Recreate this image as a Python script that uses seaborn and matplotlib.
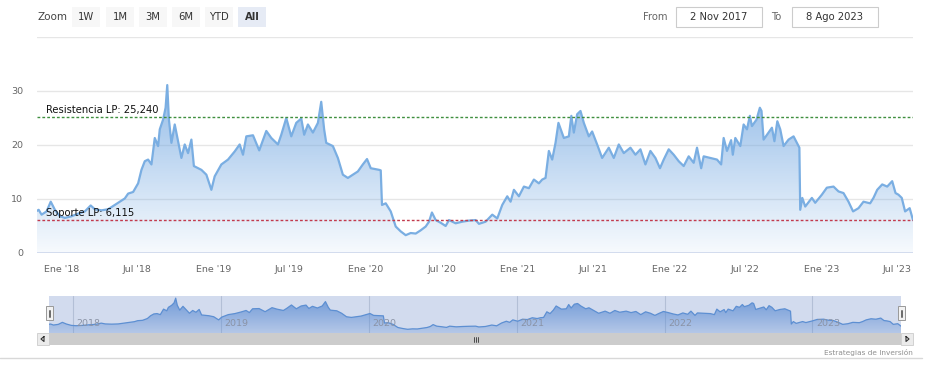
import matplotlib
matplotlib.use("Agg")
import matplotlib.dates as mdates
import matplotlib.pyplot as plt
import matplotlib.transforms as mtransforms
import numpy as np
import pandas as pd
import seaborn as sns
from matplotlib.patches import Rectangle

# Price series
dates = [
    "2017-11-02", "2017-11-06", "2017-11-13", "2017-11-25", "2017-12-05", "2017-12-15", "2017-12-27",
    "2018-01-08", "2018-01-24", "2018-02-09", "2018-02-25", "2018-03-11", "2018-03-21", "2018-04-06",
    "2018-04-22", "2018-05-08", "2018-05-20", "2018-06-01", "2018-06-09", "2018-06-21", "2018-07-03",
    "2018-07-11", "2018-07-19", "2018-07-27", "2018-08-04", "2018-08-12", "2018-08-20", "2018-08-24",
    "2018-09-01", "2018-09-07", "2018-09-11", "2018-09-15", "2018-09-21", "2018-09-29", "2018-10-07",
    "2018-10-15", "2018-10-23", "2018-10-31", "2018-11-08", "2018-11-14", "2018-11-24", "2018-12-02",
    "2018-12-14", "2018-12-26", "2019-01-03", "2019-01-19", "2019-02-04", "2019-02-20", "2019-03-04",
    "2019-03-12", "2019-03-20", "2019-04-05", "2019-04-20", "2019-05-07", "2019-05-19", "2019-06-04",
    "2019-06-12", "2019-06-24", "2019-07-06", "2019-07-18", "2019-07-30", "2019-08-06", "2019-08-15",
    "2019-08-27", "2019-09-08", "2019-09-16", "2019-09-23", "2019-09-28", "2019-10-14", "2019-10-26",
    "2019-11-07", "2019-11-19", "2019-12-01", "2019-12-13", "2019-12-25", "2020-01-04", "2020-01-13",
    "2020-02-02", "2020-02-06", "2020-02-09", "2020-02-18", "2020-03-01", "2020-03-13", "2020-03-25",
    "2020-04-06", "2020-04-18", "2020-04-30", "2020-05-12", "2020-05-24", "2020-06-01", "2020-06-08",
    "2020-06-17", "2020-06-29", "2020-07-11", "2020-07-19", "2020-08-04", "2020-08-20", "2020-09-05",
    "2020-09-21", "2020-09-29", "2020-10-15", "2020-10-31", "2020-11-12", "2020-11-24", "2020-12-06",
    "2020-12-14", "2020-12-22", "2021-01-03", "2021-01-15", "2021-01-27", "2021-02-08", "2021-02-20",
    "2021-02-28", "2021-03-08", "2021-03-16", "2021-03-24", "2021-04-01", "2021-04-08", "2021-04-21",
    "2021-05-03", "2021-05-09", "2021-05-15", "2021-05-23", "2021-05-31", "2021-06-08", "2021-06-20",
    "2021-06-28", "2021-07-10", "2021-07-22", "2021-08-07", "2021-08-19", "2021-08-31", "2021-09-12",
    "2021-09-28", "2021-10-10", "2021-10-22", "2021-11-03", "2021-11-15", "2021-11-27", "2021-12-08",
    "2021-12-17", "2021-12-29", "2022-01-10", "2022-01-22", "2022-02-03", "2022-02-15", "2022-02-27",
    "2022-03-07", "2022-03-17", "2022-03-23", "2022-04-08", "2022-04-24", "2022-05-04", "2022-05-10",
    "2022-05-18", "2022-05-28", "2022-06-01", "2022-06-07", "2022-06-19", "2022-06-27", "2022-07-05",
    "2022-07-12", "2022-07-17", "2022-07-28", "2022-08-05", "2022-08-09", "2022-08-14", "2022-08-26",
    "2022-09-03", "2022-09-09", "2022-09-16", "2022-09-23", "2022-10-01", "2022-10-13", "2022-10-25",
    "2022-11-02", "2022-11-08", "2022-11-10", "2022-11-15", "2022-11-22", "2022-12-08", "2022-12-16",
    "2023-01-01", "2023-01-13", "2023-01-29", "2023-02-10", "2023-02-22", "2023-03-06", "2023-03-17",
    "2023-03-30", "2023-04-11", "2023-04-27", "2023-05-05", "2023-05-14", "2023-05-26", "2023-06-07",
    "2023-06-19", "2023-06-27", "2023-07-04", "2023-07-12", "2023-07-20", "2023-07-31", "2023-08-08",
]
prices = [
    7.8, 8.0, 7.1, 7.7, 9.5, 8.0, 6.8,
    6.5, 6.8, 7.3, 7.7, 8.8, 8.1, 7.9,
    8.1, 8.9, 9.5, 10.1, 11.0, 11.3, 12.9,
    15.4, 17.0, 17.3, 16.4, 21.3, 19.8, 22.9,
    24.7, 26.9, 31.1, 24.7, 20.4, 23.8, 20.7,
    17.6, 20.1, 18.5, 21.0, 16.1, 15.7, 15.4,
    14.5, 11.7, 14.2, 16.4, 17.3, 18.8, 20.1,
    18.2, 21.6, 21.8, 19.0, 22.6, 21.3, 20.1,
    21.9, 25.0, 21.6, 24.1, 24.9, 21.9, 23.8,
    22.3, 24.1, 28.0, 22.9, 20.4, 19.8, 17.6,
    14.5, 13.9, 14.5, 15.1, 16.4, 17.4, 15.7,
    15.4, 15.3, 8.9, 9.2, 7.7, 4.9, 4.0,
    3.3, 3.7, 3.6, 4.2, 4.9, 5.8, 7.5,
    6.1, 5.6, 5.0, 6.1, 5.5, 5.8, 6.0,
    6.1, 5.4, 5.8, 7.1, 6.4, 8.9, 10.5,
    9.5, 11.7, 10.5, 12.3, 12.0, 13.6, 12.9,
    13.6, 13.9, 18.9, 17.3, 20.4, 24.1, 21.3,
    21.6, 25.4, 22.3, 25.7, 26.3, 24.1, 21.6,
    22.5, 20.1, 17.6, 19.5, 17.6, 20.1, 18.5,
    19.5, 18.2, 19.2, 16.4, 18.9, 17.6, 15.7,
    17.3, 19.2, 18.2, 17.0, 16.1, 17.9, 16.7,
    19.5, 15.7, 17.9, 17.6, 17.3, 16.4, 21.3,
    18.9, 20.9, 18.2, 21.3, 19.8, 23.8, 22.9,
    25.4, 23.5, 24.7, 26.9, 26.3, 21.0, 22.3,
    23.2, 20.7, 24.4, 22.9, 19.8, 21.0, 21.6,
    20.4, 19.5, 8.0, 10.2, 8.6, 10.2, 9.3,
    10.8, 12.1, 12.3, 11.4, 11.1, 9.5, 7.7,
    8.3, 9.5, 9.2, 10.2, 11.7, 12.7, 12.3,
    13.3, 11.1, 10.8, 10.2, 7.7, 8.3, 6.1,
]

resistance = 25.240
support = 6.115

y_ticks = [0, 10, 20, 30, 40]
y_tick_labels = ["0", "10", "20", "30", ""]
x_tick_dates = ["2018-01-01", "2018-07-01", "2019-01-01", "2019-07-01", "2020-01-01", "2020-07-01",
                "2021-01-01", "2021-07-01", "2022-01-01", "2022-07-01", "2023-01-01", "2023-07-01"]
x_tick_labels = ["Ene '18", "Jul '18", "Ene '19", "Jul '19", "Ene '20", "Jul '20",
                 "Ene '21", "Jul '21", "Ene '22", "Jul '22", "Ene '23", "Jul '23"]
nav_years = ["2018", "2019", "2020", "2021", "2022", "2023"]
zoom_buttons = ["1W", "1M", "3M", "6M", "YTD", "All"]
date_from = "2 Nov 2017"
date_to = "8 Ago 2023"

df = pd.DataFrame({"fecha": pd.to_datetime(dates), "precio": prices})
start, end = df["fecha"].min(), df["fecha"].max()

sns.set_theme(style="white")
plt.rcParams["font.family"] = ["DejaVu Sans"]

W, H = 925, 376
fig = plt.figure(figsize=(W / 100, H / 100), dpi=100)
fig.patch.set_facecolor("white")


def px_box(x0, y0, x1, y1):
    return [x0 / W, 1 - y1 / H, (x1 - x0) / W, (y1 - y0) / H]


def gradient_area(ax, x, y, rgb, a_top, a_bottom, ymax):
    poly = ax.fill_between(x, y, 0, color="none", lw=0)
    img = np.zeros((256, 1, 4))
    img[:, :, :3] = rgb
    img[:, 0, 3] = np.linspace(a_top, a_bottom, 256)
    x0, x1 = mdates.date2num(x.min()), mdates.date2num(x.max())
    im = ax.imshow(img, aspect="auto", extent=[x0, x1, 0, ymax], origin="upper", zorder=1)
    im.set_clip_path(poly.get_paths()[0], transform=ax.transData)


# main chart
ax = fig.add_axes(px_box(37, 37, 913, 253))
gradient_area(ax, df["fecha"], df["precio"], (0.47, 0.67, 0.89), 0.8, 0.06, 31.5)
sns.lineplot(data=df, x="fecha", y="precio", ax=ax, color="#7aaee2", lw=1.6, zorder=3)
ax.set_xlim(start, end)
ax.set_ylim(0, 40)
for v in y_ticks[1:]:
    ax.axhline(v, color="#e6e6e6", lw=1, zorder=0)
ax.axhline(0, color="#ccd6eb", lw=1.2, zorder=4)
ax.set_yticks(y_ticks, y_tick_labels)
ax.set_xticks(pd.to_datetime(x_tick_dates), x_tick_labels)
ax.tick_params(axis="y", length=0, pad=10, labelsize=6.8, labelcolor="#666666")
ax.tick_params(axis="x", length=6, width=1, color="#ccd6eb", pad=3, labelsize=6.8, labelcolor="#666666")
ax.set_xlabel("")
ax.set_ylabel("")
for s in ax.spines.values():
    s.set_visible(False)

ax.axhline(resistance, color="#3f8f3f", lw=1, ls=(0, (2, 1.5)), zorder=5)
ax.axhline(support, color="#c23a4c", lw=1, ls=(0, (2, 1.5)), zorder=5)
blend = mtransforms.blended_transform_factory(ax.transAxes, ax.transData)
ax.text(9 / 876, resistance + 0.3, "Resistencia LP: " + f"{resistance:.3f}".replace(".", ","),
        transform=blend, fontsize=7.2, color="#111111", va="bottom", zorder=6)
ax.text(9 / 876, support + 0.3, "Soporte LP: " + f"{support:.3f}".replace(".", ","),
        transform=blend, fontsize=7.2, color="#111111", va="bottom", zorder=6)

# navigator
nav = fig.add_axes(px_box(49, 296, 901, 333))
nav.set_facecolor("#d2dbee")
gradient_area(nav, df["fecha"], df["precio"], (0.36, 0.55, 0.83), 0.85, 0.25, 33)
sns.lineplot(data=df, x="fecha", y="precio", ax=nav, color="#5d8fd2", lw=0.9, zorder=3)
nav.set_xlim(start, end)
nav.set_ylim(0, 33)
year_starts = pd.to_datetime([f"{y}-01-01" for y in nav_years])
for d, lab in zip(year_starts, nav_years):
    nav.axvline(d, color="#b3bfd6", lw=0.8, zorder=0.5)
    nav.annotate(lab, (d, 9 / 37), xycoords=("data", "axes fraction"), xytext=(2.5, 0),
                 textcoords="offset points", fontsize=6.8, color="#8a93a6", va="center", zorder=4)
nav.set_xticks([])
nav.set_yticks([])
nav.set_xlabel("")
nav.set_ylabel("")
for s in nav.spines.values():
    s.set_visible(False)

# overlay for the range selector, scrollbar and credits
ov = fig.add_axes([0, 0, 1, 1], zorder=10)
ov.set_xlim(0, W)
ov.set_ylim(H, 0)
ov.axis("off")
ov.patch.set_alpha(0)

ov.text(37, 17, "Zoom", fontsize=7.5, color="#444444", va="center")
btn_x = [72, 106, 139, 172, 205, 238]
for bx, lab in zip(btn_x, zoom_buttons):
    sel = lab == "All"
    ov.add_patch(Rectangle((bx, 7), 28, 20, facecolor="#e6ebf5" if sel else "#f7f7f7", edgecolor="none"))
    ov.text(bx + 14, 17, lab, fontsize=7.2, color="#333333", ha="center", va="center",
            fontweight="bold" if sel else "normal")

ov.text(643, 17, "From", fontsize=7.2, color="#666666", va="center")
ov.add_patch(Rectangle((676, 7), 86, 20, facecolor="white", edgecolor="#cccccc", lw=0.8))
ov.text(719, 17, date_from, fontsize=7.2, color="#333333", ha="center", va="center")
ov.text(771, 17, "To", fontsize=7.2, color="#666666", va="center")
ov.add_patch(Rectangle((792, 7), 86, 20, facecolor="white", edgecolor="#cccccc", lw=0.8))
ov.text(835, 17, date_to, fontsize=7.2, color="#333333", ha="center", va="center")

# scrollbar
ov.add_patch(Rectangle((49, 333), 852, 12, facecolor="#cccccc", edgecolor="none"))
ov.add_patch(Rectangle((37, 333), 12, 12, facecolor="#ebebeb", edgecolor="#cccccc", lw=0.6))
ov.add_patch(Rectangle((901, 333), 12, 12, facecolor="#ebebeb", edgecolor="#cccccc", lw=0.6))
ov.plot([44, 41, 44, 44], [336.5, 339, 341.5, 336.5], color="#333333", lw=0.8)
ov.plot([906, 909, 906, 906], [336.5, 339, 341.5, 336.5], color="#333333", lw=0.8)
for gx in (473.5, 475.5, 477.5):
    ov.plot([gx, gx], [336.5, 341.5], color="#333333", lw=0.6)

# navigator handles
for hx in (46, 898):
    ov.add_patch(Rectangle((hx, 306), 7, 14, facecolor="#f2f2f2", edgecolor="#999999", lw=0.7))
    ov.plot([hx + 2.6, hx + 2.6], [309.5, 316.5], color="#333333", lw=0.5)
    ov.plot([hx + 4.4, hx + 4.4], [309.5, 316.5], color="#333333", lw=0.5)

ov.plot([0, 922], [358, 358], color="#d8d8d8", lw=1)
ov.text(913, 352, "Estrategias de Inversión", fontsize=5.3, color="#909090", ha="right", va="center")

fig.savefig("out.png", dpi=100)
